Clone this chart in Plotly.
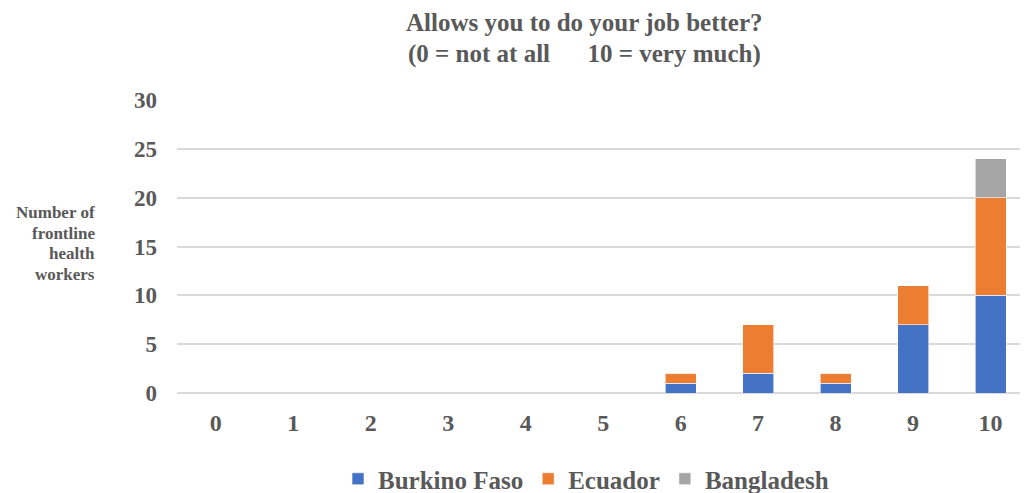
import plotly.graph_objects as go

categories = ["0", "1", "2", "3", "4", "5", "6", "7", "8", "9", "10"]
burkina = [0, 0, 0, 0, 0, 0, 1, 2, 1, 7, 10]
ecuador = [0, 0, 0, 0, 0, 0, 1, 5, 1, 4, 10]
bangladesh = [0, 0, 0, 0, 0, 0, 0, 0, 0, 0, 4]
series = [("Burkino Faso", burkina, "#4472C4"),
          ("Ecuador", ecuador, "#ED7D31"),
          ("Bangladesh", bangladesh, "#A5A5A5")]
title_lines = ["Allows you to do your job better?", "(0 = not at all      10 = very much)"]
ylabel_lines = ["Number of", "frontline", "health", "workers"]
yticks = [0, 5, 10, 15, 20, 25, 30]

FONT = "Liberation Serif, Times New Roman, DejaVu Serif, serif"
GREY = "#595959"

L, R, T, B = 177, 4, 100, 100
W, H = 1024, 493
PH = H - T - B
PW = W - L - R

def py(pix):
    return (H - B - pix) / PH

def px(pix):
    return (pix - L) / PW

fig = go.Figure()
xs = list(range(len(categories)))
for name, vals, col in series:
    fig.add_trace(go.Bar(x=xs, y=vals, name=name, marker_color=col,
                         marker_line_color="rgba(255,255,255,0.6)", marker_line_width=1,
                         width=0.4))

fig.update_layout(
    barmode="stack",
    width=W, height=H,
    margin=dict(l=L, r=R, t=T, b=B, autoexpand=False),
    plot_bgcolor="white", paper_bgcolor="white",
    font=dict(family=FONT, color=GREY),
    showlegend=True,
    legend=dict(orientation="h", x=px(586), xanchor="center", y=py(479), yanchor="middle",
                font=dict(family=FONT, size=25, color=GREY, weight="bold"),
                itemwidth=30, traceorder="normal"),
)
fig.update_xaxes(tickvals=xs, ticktext=["<b>%s</b>" % c for c in categories],
                 range=[-0.5, 10.38], showgrid=False, zeroline=False,
                 tickfont=dict(family=FONT, size=24, color=GREY), ticks="",
                 ticklabelstandoff=13)
fig.update_yaxes(range=[0, 30], tickvals=yticks,
                 ticktext=["<b>%d</b>" % v for v in yticks],
                 showgrid=True, gridcolor="#D9D9D9", gridwidth=1.5,
                 zeroline=True, zerolinecolor="#D9D9D9", zerolinewidth=1.5,
                 tickfont=dict(family=FONT, size=23, color=GREY), ticks="",
                 ticklabelstandoff=19)

for i, (line, ypix) in enumerate(zip(title_lines, [22, 54])):
    fig.add_annotation(text="<b>%s</b>" % line, xref="paper", yref="paper",
                       x=px(584), xanchor="center", y=py(ypix), yanchor="middle",
                       showarrow=False, font=dict(family=FONT, size=25, color=GREY))

for line, ypix in zip(ylabel_lines, [212, 233, 253, 274]):
    fig.add_annotation(text="<b>%s</b>" % line, xref="paper", yref="paper",
                       x=px(97), xanchor="right", y=py(ypix), yanchor="middle",
                       showarrow=False, font=dict(family=FONT, size=17, color=GREY))

fig.write_html("out.html")
